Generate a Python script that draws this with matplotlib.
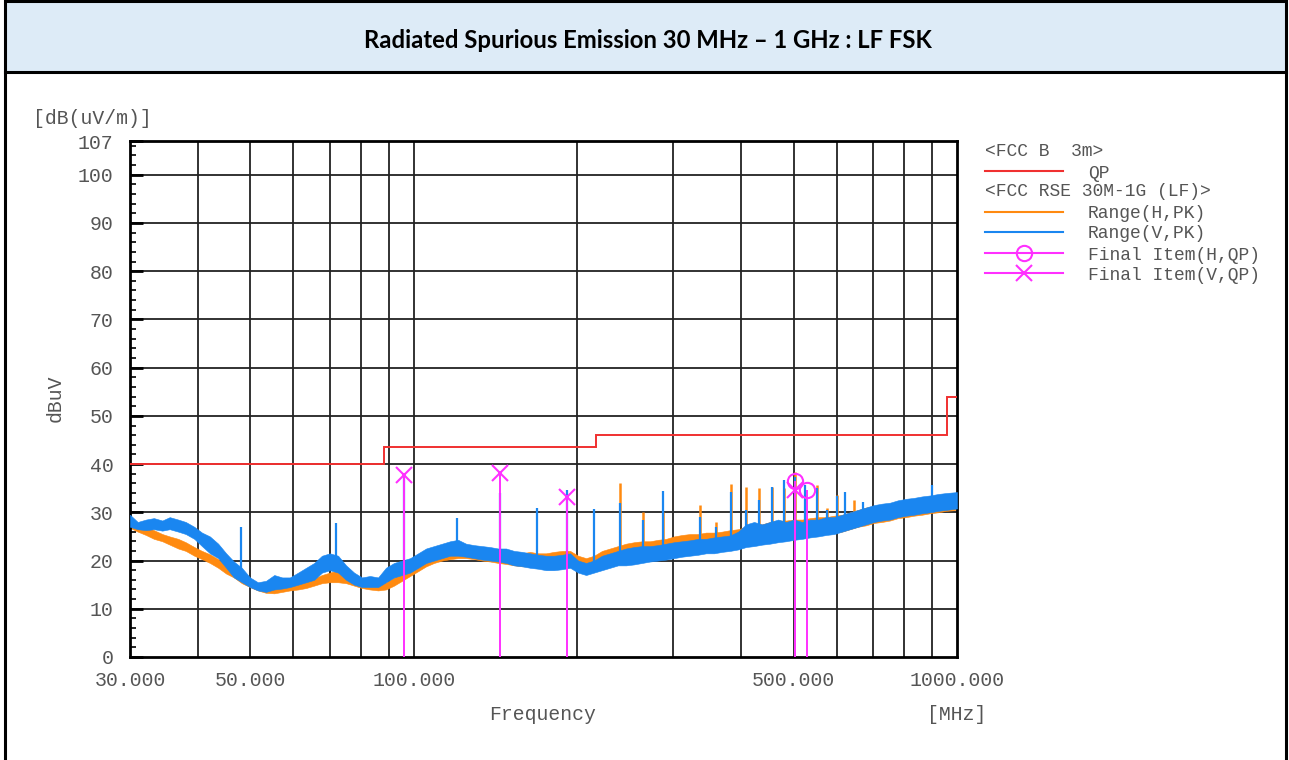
import matplotlib
matplotlib.use("Agg")
import matplotlib.pyplot as plt
from matplotlib.patches import Rectangle
from matplotlib.ticker import FixedLocator, NullFormatter

# ---------------- data ----------------
title = "Radiated Spurious Emission 30 MHz \u2013 1 GHz : LF FSK"

# frequency nodes of the read-off traces (MHz)
freq = [30.0, 31.0, 32.1, 33.2, 34.4, 35.5, 36.8, 38.0, 39.4, 40.7, 42.1, 43.6, 45.1, 46.6,
        48.2, 49.9, 51.6, 53.4, 55.3, 57.2, 59.1, 61.2, 63.3, 65.5, 67.7, 70.0, 72.5, 75.0,
        77.6, 80.2, 83.0, 85.9, 88.8, 91.9, 95.1, 98.4, 101.8, 105.3, 108.9, 112.7, 116.6,
        120.6, 124.7, 129.0, 133.5, 138.1, 142.9, 147.8, 152.9, 158.2, 163.6, 169.3, 175.1,
        181.1, 187.4, 193.9, 200.6, 207.5, 214.6, 222.0, 229.7, 237.6, 245.8, 254.3, 263.1,
        272.2, 281.6, 291.3, 301.3, 311.7, 322.5, 333.6, 345.1, 357.0, 369.3, 382.1, 395.3,
        408.9, 423.0, 437.6, 452.7, 468.4, 484.5, 501.3, 518.6, 536.5, 555.0, 574.2, 594.0,
        614.5, 635.5, 657.4, 680.1, 703.6, 727.9, 752.9, 779.0, 805.9, 833.7, 862.5, 892.3,
        923.1, 955.0, 1000.0]

# Range(V,PK) - blue trace, lower / upper edge of the noise band (dBuV/m)
v_lo = [27.0, 26.5, 26.3, 26.5, 26.2, 26.5, 26.0, 25.5, 24.5, 23.0, 21.5, 20.5, 18.5, 16.5,
        15.5, 14.5, 13.8, 13.5, 14.0, 14.2, 14.5, 15.0, 15.5, 16.0, 17.5, 18.0, 17.5, 16.0,
        15.0, 14.5, 14.5, 14.5, 15.5, 16.5, 17.0, 17.5, 18.5, 19.5, 20.0, 20.5, 21.0,
        21.0, 20.8, 20.5, 20.2, 20.0, 19.8, 19.5, 19.0, 18.8, 18.5, 18.3, 18.0,
        18.0, 18.2, 18.5, 17.5, 17.0, 17.5, 18.0, 18.5, 19.0, 19.0, 19.2, 19.5,
        19.8, 20.0, 20.2, 20.5, 20.8, 21.0, 21.2, 21.5, 21.5, 21.8, 22.0, 22.3,
        22.8, 23.0, 23.3, 23.5, 23.8, 24.0, 24.3, 24.5, 24.8, 25.0, 25.3, 25.5,
        26.0, 26.5, 27.0, 27.5, 28.0, 28.3, 28.5, 29.0, 29.3, 29.5, 29.8, 30.0,
        30.3, 30.5, 30.8]
v_hi = [29.5, 28.0, 28.5, 28.8, 28.3, 29.0, 28.5, 28.0, 27.0, 25.8, 25.0, 23.5, 21.5, 19.8,
        18.5, 16.5, 15.5, 15.8, 17.0, 16.5, 16.5, 17.5, 18.5, 19.5, 21.0, 21.5, 21.0, 19.0,
        17.5, 16.5, 16.8, 16.5, 18.5, 19.5, 20.0, 20.5, 21.5, 22.5, 23.0, 23.5, 24.0,
        24.3, 23.5, 23.2, 23.0, 22.8, 22.5, 22.5, 22.0, 21.8, 21.5, 21.2, 21.0,
        21.0, 21.2, 21.5, 20.0, 19.5, 20.0, 21.0, 21.5, 22.0, 22.5, 22.8, 23.0,
        23.0, 23.2, 23.5, 23.8, 24.0, 24.2, 24.5, 24.5, 24.8, 25.0, 25.2, 26.0,
        27.5, 28.0, 27.5, 28.0, 28.5, 28.0, 28.5, 28.0, 28.5, 28.5, 29.0, 29.0,
        29.5, 30.0, 30.5, 31.0, 31.5, 31.8, 32.0, 32.5, 32.8, 33.0, 33.3, 33.5,
        33.8, 34.0, 34.2]

# Range(H,PK) - orange trace
h_lo = [26.8, 26.0, 25.3, 24.5, 24.0, 23.3, 22.5, 22.0, 21.0, 20.3, 19.5, 18.5, 17.3, 16.5,
        15.3, 14.5, 13.8, 13.3, 13.2, 13.5, 13.8, 14.0, 14.3, 14.8, 15.3, 15.5, 15.5, 15.3,
        14.8, 14.3, 14.0, 13.8, 14.0, 14.8, 15.8, 16.8, 17.8, 18.8, 19.5, 20.0, 20.3,
        20.5, 20.5, 20.3, 20.0, 19.8, 19.5, 19.3, 19.0, 18.8, 18.8, 18.8, 18.8,
        19.0, 19.0, 19.0, 18.5, 18.3, 18.5, 19.0, 19.5, 19.8, 20.0, 20.0, 20.3,
        20.5, 20.8, 21.0, 21.2, 21.5, 21.8, 22.0, 22.0, 22.3, 22.5, 22.5, 22.8,
        23.0, 23.3, 23.5, 23.8, 24.0, 24.3, 24.5, 24.8, 25.0, 25.3, 25.5, 25.8,
        26.0, 26.5, 27.0, 27.3, 27.8, 28.0, 28.3, 28.8, 29.0, 29.3, 29.5, 29.8,
        30.0, 30.3, 30.5]
h_hi = [28.2, 27.5, 27.0, 26.3, 25.5, 25.0, 24.5, 23.8, 22.8, 22.0, 21.3, 20.3, 19.0, 18.0,
        17.0, 16.0, 15.3, 14.8, 14.6, 14.8, 15.0, 15.5, 15.8, 16.3, 17.0, 17.5, 18.0, 17.0,
        16.2, 15.8, 15.5, 15.3, 15.5, 16.5, 17.5, 18.5, 19.5, 20.5, 21.3, 21.8, 22.3,
        22.5, 22.3, 22.2, 22.0, 22.0, 21.8, 21.8, 21.5, 21.5, 21.8, 21.5, 21.5,
        21.8, 22.0, 22.0, 21.0, 20.5, 21.0, 22.0, 22.5, 23.0, 23.5, 23.8, 24.0,
        24.0, 24.3, 24.5, 25.0, 25.3, 25.5, 25.5, 25.8, 25.8, 26.0, 26.3, 26.5,
        27.0, 27.5, 27.5, 28.0, 28.3, 28.3, 28.5, 28.5, 28.8, 29.0, 29.0, 29.3,
        29.5, 30.0, 30.5, 31.0, 31.3, 31.5, 31.8, 32.3, 32.5, 32.8, 33.0, 33.3,
        33.5, 33.8, 34.0]

# narrow emission spikes: frequency, base, top
v_spk_f = [48.0, 71.9, 95.9, 120.0, 144.0, 168.6, 191.4, 215.0, 239.5, 264.6, 287.5, 336.0,
           360.0, 384.0, 408.0, 432.0, 456.0, 480.0, 503.0, 525.0, 552.0, 576.0, 600.0,
           621.0, 672.0, 900.0]
v_spk_base = [16.0, 19.5, 19.0, 22.5, 21.0, 20.0, 20.0, 19.0, 21.0, 21.5, 22.0, 23.0,
              23.5, 24.0, 25.0, 25.0, 25.5, 26.0, 26.0, 26.0, 26.5, 27.0, 27.0,
              27.5, 28.5, 32.0]
v_spk_top = [27.0, 27.8, 37.8, 28.8, 34.0, 30.9, 34.6, 30.7, 32.0, 28.4, 34.4, 29.0,
             27.0, 34.2, 30.5, 32.6, 35.3, 36.7, 37.3, 35.7, 35.0, 30.5, 33.3,
             34.2, 32.2, 35.7]

h_spk_f = [239.5, 264.6, 287.5, 336.0, 360.0, 384.0, 408.0, 432.0, 456.0, 480.0, 503.0,
           552.0, 576.0, 600.0, 646.0]
h_spk_base = [22.0, 22.0, 22.5, 23.0, 23.5, 24.0, 25.0, 25.0, 25.5, 26.0, 26.0,
              26.5, 27.0, 27.0, 28.0]
h_spk_top = [36.1, 30.1, 30.0, 31.5, 28.0, 35.9, 35.3, 35.0, 35.3, 35.0, 38.4,
             35.7, 31.0, 33.6, 32.6]

# FCC class B 3 m QP limit (step)
lim_edges = [30, 88, 216, 960, 1000]
lim_levels = [40.0, 43.5, 46.0, 54.0]

# final measurement items (QP)
fin_h_f = [503.0, 529.0]
fin_h_v = [36.4, 34.6]
fin_v_f = [95.9, 144.0, 191.4, 504.0]
fin_v_v = [37.8, 38.2, 33.2, 34.6]

x_ticks = [30, 50, 100, 500, 1000]
x_tick_labels = ["30.000", "50.000", "100.000", "500.000", "1000.000"]
x_grid = [40, 50, 60, 70, 80, 90, 100, 200, 300, 400, 500, 600, 700, 800, 900]
y_ticks = [0, 10, 20, 30, 40, 50, 60, 70, 80, 90, 100, 107]
y_minor = [2, 4, 6, 8, 12, 14, 16, 18, 22, 24, 26, 28, 32, 34, 36, 38, 42, 44, 46, 48,
           52, 54, 56, 58, 62, 64, 66, 68, 72, 74, 76, 78, 82, 84, 86, 88, 92, 94, 96, 98,
           102, 104, 106]

legend_rows = [("head", "<FCC B  3m>"), ("limit", "QP"), ("head", "<FCC RSE 30M-1G (LF)>"),
               ("h", "Range(H,PK)"), ("v", "Range(V,PK)"),
               ("fh", "Final Item(H,QP)"), ("fv", "Final Item(V,QP)")]

# ---------------- style ----------------
C_BLUE = "#1a86f0"
C_ORANGE = "#ff8a10"
C_RED = "#f03030"
C_MAG = "#ff30ff"
C_TXT = "#555555"
C_GRID = "#222222"
MONO = "Liberation Mono"

W, H = 1289, 760
fig = plt.figure(figsize=(W / 100, H / 100), dpi=100)

# frame / banner (pixel coordinate overlay)
ov = fig.add_axes([0, 0, 1, 1])
ov.set_xlim(0, W)
ov.set_ylim(H, 0)
ov.axis("off")
ov.add_patch(Rectangle((5, 1), W - 8, 71, facecolor="#ddebf7", edgecolor="black", lw=2.2))
ov.plot([5, 5], [72, H], color="black", lw=2.2)
ov.plot([W - 3, W - 3], [72, H], color="black", lw=2.2)
ov.text(W / 2 + 3, 40, title, ha="center", va="center", fontsize=17.2,
        fontweight="bold", family="Lato", color="black")

# ---------------- main axes ----------------
x0, x1, yb, yt = 130, 957, 657, 141
ax = fig.add_axes([x0 / W, 1 - yb / H, (x1 - x0) / W, (yb - yt) / H])
ax.set_xscale("log")
ax.set_xlim(30, 1000)
ax.set_ylim(0, 107)

for f in x_grid:
    ax.axvline(f, color=C_GRID, lw=1.3, zorder=1)
for yv in y_ticks[1:-1]:
    ax.axhline(yv, color=C_GRID, lw=1.3, zorder=1)

ax.fill_between(freq, h_lo, h_hi, color=C_ORANGE, lw=0.4, zorder=2)
ax.vlines(h_spk_f, h_spk_base, h_spk_top, color=C_ORANGE, lw=1.8, zorder=2)
ax.fill_between(freq, v_lo, v_hi, color=C_BLUE, lw=0.4, zorder=3)
ax.vlines(v_spk_f, v_spk_base, v_spk_top, color=C_BLUE, lw=1.6, zorder=3)

ax.stairs(lim_levels, lim_edges, baseline=None, color=C_RED, lw=1.4, zorder=4)

ax.vlines(fin_h_f, 0, fin_h_v, color=C_MAG, lw=1.4, zorder=5)
ax.vlines(fin_v_f, 0, fin_v_v, color=C_MAG, lw=1.4, zorder=5)
ax.plot(fin_h_f, fin_h_v, ls="none", marker="o", ms=11, mfc="none", mec=C_MAG, mew=1.5, zorder=6)
ax.plot(fin_v_f, fin_v_v, ls="none", marker="x", ms=12, mec=C_MAG, mew=1.5, zorder=6)

for s in ax.spines.values():
    s.set_color("black")
    s.set_linewidth(2.0)

ax.xaxis.set_major_locator(FixedLocator(x_ticks))
ax.xaxis.set_minor_locator(FixedLocator([]))
ax.xaxis.set_minor_formatter(NullFormatter())
ax.set_xticklabels(x_tick_labels)
ax.tick_params(axis="x", which="both", length=0, pad=10, labelsize=14.3,
               labelcolor=C_TXT)
ax.yaxis.set_major_locator(FixedLocator(y_ticks))
ax.yaxis.set_minor_locator(FixedLocator(y_minor))
ax.tick_params(axis="y", which="major", direction="in", length=9, width=2.0,
               pad=12, labelsize=14.3, labelcolor=C_TXT)
ax.tick_params(axis="y", which="minor", direction="in", length=4, width=1.2)
for lab in ax.get_xticklabels() + ax.get_yticklabels():
    lab.set_family(MONO)

# axis texts
ov.text(33, 119, "[dB(uV/m)]", ha="left", va="center", fontsize=14.2, family=MONO, color=C_TXT)
ov.text(55, 398, "dBuV", ha="center", va="center", rotation=90, fontsize=14.2, family=MONO, color=C_TXT)
ov.text(543, 714, "Frequency", ha="center", va="center", fontsize=14.2, family=MONO, color=C_TXT)
ov.text(957, 714, "[MHz]", ha="center", va="center", fontsize=14.2, family=MONO, color=C_TXT)

# legend
row_y = [151, 172, 192, 213, 233, 254, 274]
for (kind, label), yy in zip(legend_rows, row_y):
    if kind == "head":
        ov.text(985, yy, label, ha="left", va="center", fontsize=13, family=MONO, color=C_TXT)
        continue
    col = {"limit": C_RED, "h": C_ORANGE, "v": C_BLUE, "fh": C_MAG, "fv": C_MAG}[kind]
    ov.plot([985, 1063], [yy - 1, yy - 1], color=col, lw=1.5)
    if kind == "fh":
        ov.plot([1024], [yy - 1], marker="o", ms=11, mfc="none", mec=C_MAG, mew=1.5)
    if kind == "fv":
        ov.plot([1024], [yy - 1], marker="x", ms=12, mec=C_MAG, mew=1.5)
    ov.text(1088, yy + 1, label, ha="left", va="center", fontsize=13, family=MONO, color=C_TXT)

fig.savefig("out.png", dpi=100)
